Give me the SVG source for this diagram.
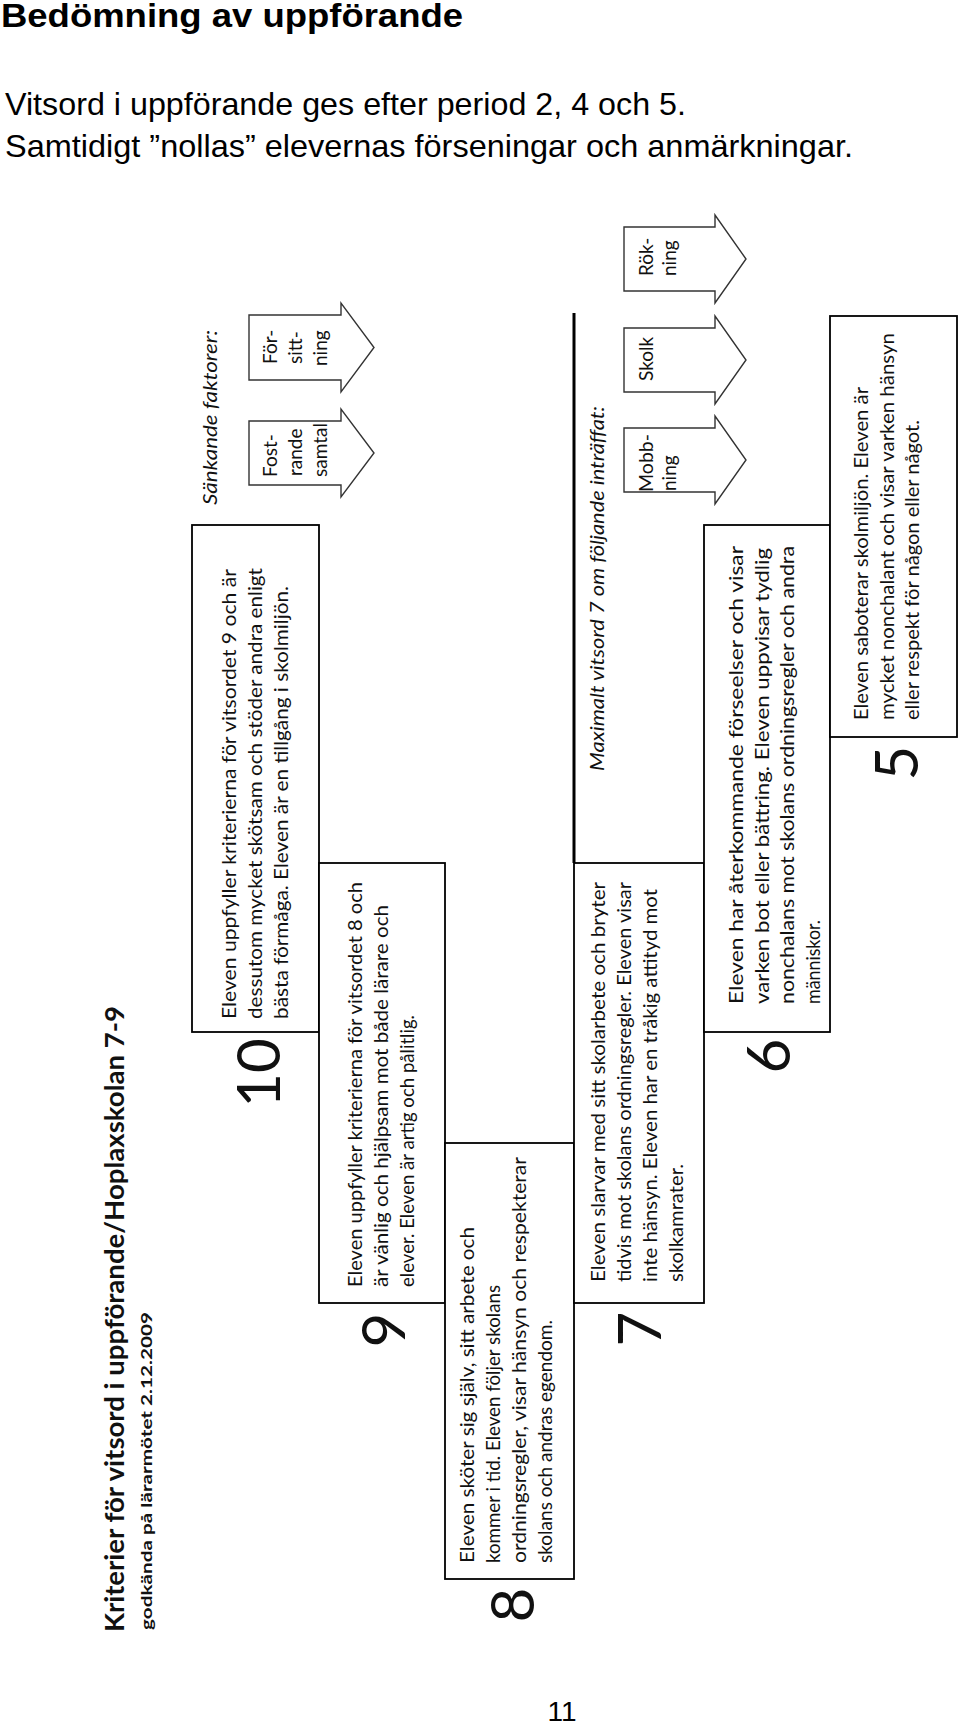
<svg xmlns="http://www.w3.org/2000/svg" width="960" height="1724" viewBox="0 0 960 1724">
<style>
.box{fill:#fff;stroke:#000;stroke-width:1.8}
.arr{fill:#fff;stroke:#333;stroke-width:1.4;stroke-linejoin:miter}
.t{font-family:Lato,"Open Sans","Liberation Sans",sans-serif;font-size:18.5px;fill:#111}
.t6{font-size:19.5px}
.a{font-family:Lato,"Open Sans","Liberation Sans",sans-serif;font-size:19px;fill:#111}
.big{font-family:Lato,"Open Sans","Liberation Sans",sans-serif;font-size:60px;fill:#111;text-anchor:middle}
.it{font-family:Lato,"Open Sans","Liberation Sans",sans-serif;font-style:italic;font-size:19.5px;fill:#111}
.bt{font-family:Lato,"Open Sans","Liberation Sans",sans-serif;font-weight:bold;fill:#111}
.hd{font-family:"Liberation Sans",Arial,sans-serif;fill:#000}
</style>
<rect width="960" height="1724" fill="#fff"/>

<g id="header">
<text class="hd" x="1" y="27" font-size="33" font-weight="bold" textLength="462" lengthAdjust="spacingAndGlyphs">Bedömning av uppförande</text>
<text class="hd" x="5" y="115" font-size="32" textLength="681" lengthAdjust="spacingAndGlyphs">Vitsord i uppförande ges efter period 2, 4 och 5.</text>
<text class="hd" x="5" y="157" font-size="32" textLength="848" lengthAdjust="spacingAndGlyphs">Samtidigt ”nollas” elevernas förseningar och anmärkningar.</text>
</g>

<g id="diagram-title">
<text class="bt" font-size="26.5" transform="translate(124,1632) rotate(-90)" textLength="626" lengthAdjust="spacingAndGlyphs">Kriterier för vitsord i uppförande/Hoplaxskolan 7-9</text>
<text class="bt" font-size="15.5" transform="translate(152,1630) rotate(-90)" textLength="318" lengthAdjust="spacingAndGlyphs">godkända på lärarmötet 2.12.2009</text>
</g>

<g id="connectors">
<path d="M574,313 V863" stroke="#000" stroke-width="3" fill="none"/>
</g>

<g id="box10">
<rect class="box" x="192" y="525" width="127" height="507"/>
<text class="t" transform="translate(236,1019) rotate(-90)" textLength="450" lengthAdjust="spacingAndGlyphs">Eleven uppfyller kriterierna för vitsordet 9 och är</text>
<text class="t" transform="translate(262,1019) rotate(-90)" textLength="451" lengthAdjust="spacingAndGlyphs">dessutom mycket skötsam och stöder andra enligt</text>
<text class="t" transform="translate(288,1019) rotate(-90)" textLength="433" lengthAdjust="spacingAndGlyphs">bästa förmåga.  Eleven är en tillgång i skolmiljön.</text>
<text class="big" transform="translate(280,1073) rotate(-90)">10</text>
</g>

<g id="box9">
<rect class="box" x="319" y="863" width="126" height="440"/>
<text class="t" transform="translate(362,1287) rotate(-90)" textLength="405" lengthAdjust="spacingAndGlyphs">Eleven uppfyller kriterierna för vitsordet 8 och</text>
<text class="t" transform="translate(388,1287) rotate(-90)" textLength="382" lengthAdjust="spacingAndGlyphs">är vänlig och hjälpsam mot både lärare och</text>
<text class="t" transform="translate(414,1287) rotate(-90)" textLength="272" lengthAdjust="spacingAndGlyphs">elever. Eleven är artig och pålitlig.</text>
<text class="big" transform="translate(405,1330) rotate(-90)">9</text>
</g>

<g id="box8">
<rect class="box" x="445" y="1143" width="129" height="436"/>
<text class="t" transform="translate(473.5,1563) rotate(-90)" textLength="336" lengthAdjust="spacingAndGlyphs">Eleven sköter sig själv, sitt arbete och</text>
<text class="t" transform="translate(499.5,1563) rotate(-90)" textLength="278" lengthAdjust="spacingAndGlyphs">kommer i tid. Eleven följer skolans</text>
<text class="t" transform="translate(525.5,1563) rotate(-90)" textLength="406" lengthAdjust="spacingAndGlyphs">ordningsregler, visar hänsyn och respekterar</text>
<text class="t" transform="translate(551.5,1563) rotate(-90)" textLength="243" lengthAdjust="spacingAndGlyphs">skolans och andras egendom.</text>
<text class="big" transform="translate(534,1605) rotate(-90)">8</text>
</g>

<g id="box7">
<rect class="box" x="574" y="863" width="130" height="440"/>
<text class="t" transform="translate(605,1282) rotate(-90)" textLength="400" lengthAdjust="spacingAndGlyphs">Eleven slarvar med sitt skolarbete och bryter</text>
<text class="t" transform="translate(631,1282) rotate(-90)" textLength="400" lengthAdjust="spacingAndGlyphs">tidvis mot skolans ordningsregler. Eleven visar</text>
<text class="t" transform="translate(657,1282) rotate(-90)" textLength="393" lengthAdjust="spacingAndGlyphs">inte hänsyn. Eleven har en tråkig attityd mot</text>
<text class="t" transform="translate(683,1282) rotate(-90)" textLength="118" lengthAdjust="spacingAndGlyphs">skolkamrater.</text>
<text class="big" transform="translate(661,1329) rotate(-90)">7</text>
</g>

<g id="box6">
<rect class="box" x="704" y="525" width="126" height="507"/>
<text class="t t6" transform="translate(743,1004) rotate(-90)" textLength="458" lengthAdjust="spacingAndGlyphs">Eleven har återkommande förseelser och visar</text>
<text class="t t6" transform="translate(768.5,1004) rotate(-90)" textLength="456" lengthAdjust="spacingAndGlyphs">varken bot eller bättring. Eleven uppvisar tydlig</text>
<text class="t t6" transform="translate(794,1004) rotate(-90)" textLength="458" lengthAdjust="spacingAndGlyphs">nonchalans mot skolans ordningsregler och andra</text>
<text class="t t6" transform="translate(819.5,1004) rotate(-90)" textLength="84" lengthAdjust="spacingAndGlyphs">människor.</text>
<text class="big" transform="translate(790,1056) rotate(-90)">6</text>
</g>

<g id="box5">
<rect class="box" x="830" y="316" width="127" height="421"/>
<text class="t" transform="translate(868,720) rotate(-90)" textLength="333" lengthAdjust="spacingAndGlyphs">Eleven saboterar skolmiljön. Eleven är</text>
<text class="t" transform="translate(893.5,720) rotate(-90)" textLength="387" lengthAdjust="spacingAndGlyphs">mycket nonchalant och visar varken hänsyn</text>
<text class="t" transform="translate(919,720) rotate(-90)" textLength="300" lengthAdjust="spacingAndGlyphs">eller respekt för någon eller något.</text>
<text class="big" transform="translate(918,763) rotate(-90)">5</text>
</g>

<g id="sankande">
<text class="it" transform="translate(216.5,505) rotate(-90)" textLength="175" lengthAdjust="spacingAndGlyphs">Sänkande faktorer:</text>
</g>

<g id="arrow-forsittning">
<path class="arr" d="M249,315 H341 V303 L374,347.5 L341,392 V380 H249 Z"/>
<text class="a" transform="translate(277,364) rotate(-90)">För-</text>
<text class="a" transform="translate(302,364) rotate(-90)">sitt-</text>
<text class="a" transform="translate(327,366) rotate(-90)">ning</text>
</g>

<g id="arrow-fostrandesamtal">
<path class="arr" d="M249,421 H341 V409 L374,453 L341,497 V485 H249 Z"/>
<text class="a" transform="translate(277,477) rotate(-90)">Fost-</text>
<text class="a" transform="translate(302,476) rotate(-90)">rande</text>
<text class="a" transform="translate(327,477) rotate(-90)">samtal</text>
</g>

<g id="maximalt">
<text class="it" transform="translate(604,771) rotate(-90)" textLength="365" lengthAdjust="spacingAndGlyphs">Maximalt vitsord 7 om följande inträffat:</text>
</g>

<g id="arrow-rokning">
<path class="arr" d="M624,227 H715 V215 L746,259 L715,303 V291 H624 Z"/>
<text class="a" transform="translate(653,276) rotate(-90)">Rök-</text>
<text class="a" transform="translate(676,276) rotate(-90)">ning</text>
</g>

<g id="arrow-skolk">
<path class="arr" d="M624,328 H715 V316 L746,360 L715,404 V392 H624 Z"/>
<text class="a" transform="translate(653,381) rotate(-90)">Skolk</text>
</g>

<g id="arrow-mobbning">
<path class="arr" d="M624,428 H715 V416 L746,460 L715,504 V492 H624 Z"/>
<text class="a" transform="translate(653,492) rotate(-90)" textLength="58" lengthAdjust="spacingAndGlyphs">Mobb-</text>
<text class="a" transform="translate(676,491) rotate(-90)">ning</text>
</g>

<g id="page-number">
<text class="hd" x="562" y="1721" font-size="28" text-anchor="middle">11</text>
</g>
</svg>
